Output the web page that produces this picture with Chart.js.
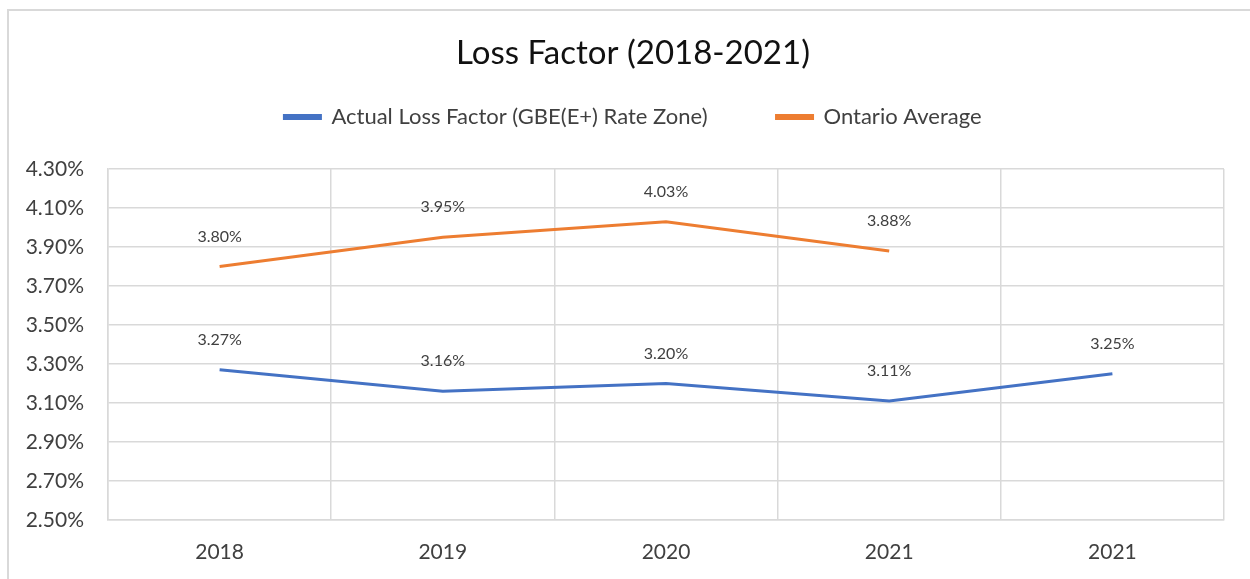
<!DOCTYPE html>
<html>
<head>
<meta charset="utf-8">
<script src="https://cdn.jsdelivr.net/npm/chart.js@4"></script>
<style>
  body { margin: 0; background: #fff; overflow: hidden; }
  #frame { position: absolute; left: 7px; top: 9px; width: 1300px; height: 600px; border: 2px solid #d9d9d9; box-sizing: border-box; }
  #wrap { position: absolute; left: 0; top: 0; width: 1250px; height: 579px; }
</style>
</head>
<body>
<div id="frame"></div>
<div id="wrap"><canvas id="chart"></canvas></div>
<script>
// values (percent)
const years = ["2018", "2019", "2020", "2021", "2021"];
const actualLoss = [3.27, 3.16, 3.20, 3.11, 3.25];
const ontarioAvg = [3.80, 3.95, 4.03, 3.88, null];

const labelColor = "#404040";
const fontName = "Lato, 'Open Sans', sans-serif";

// little labels above each point
const pointLabels = {
    id: "pointLabels",
    afterDatasetsDraw(chart) {
        const ctx = chart.ctx;
        ctx.save();
        ctx.font = "16px " + fontName;
        ctx.fillStyle = labelColor;
        ctx.textAlign = "center";
        ctx.textBaseline = "middle";
        chart.data.datasets.forEach((ds, i) => {
            chart.getDatasetMeta(i).data.forEach((pt, j) => {
                if (ds.data[j] == null) return;
                ctx.fillText(ds.data[j].toFixed(2) + "%", pt.x, pt.y - 30);
            });
        });
        ctx.restore();
    }
};

// title + legend sit a bit right of the plot centre, legend items spaced wide
const headerShift = {
    id: "headerShift",
    beforeInit(chart) {
        const legend = chart.legend;
        const fit = legend.fit;
        legend.fit = function () {
            fit.apply(legend, arguments);
            this.height -= 27.6;
        };
        legend.draw = function () {
            chart.ctx.save();
            chart.ctx.translate(21, -58.6);
            legend._draw();
            chart.ctx.restore();
        };
        const title = chart.titleBlock;
        const tdraw = title.draw;
        title.draw = function () {
            chart.ctx.save();
            chart.ctx.translate(21, 0);
            tdraw.apply(title, arguments);
            chart.ctx.restore();
        };
    }
};

const ctx = document.getElementById("chart").getContext("2d");
new Chart(ctx, {
    type: "line",
    data: {
        labels: years,
        datasets: [{
            label: "Actual Loss Factor (GBE(E+) Rate Zone)",
            data: actualLoss,
            borderColor: "#4472C4",
            backgroundColor: "#4472C4",
            borderWidth: 3,
            pointRadius: 0,
            tension: 0
        }, {
            label: "Ontario Average",
            data: ontarioAvg,
            borderColor: "#ED7D31",
            backgroundColor: "#ED7D31",
            borderWidth: 3,
            pointRadius: 0,
            tension: 0
        }]
    },
    options: {
        responsive: true,
        maintainAspectRatio: false,
        animation: false,
        layout: { padding: { top: 0, right: 26, left: 0, bottom: 0 } },
        plugins: {
            title: {
                display: true,
                text: "Loss Factor (2018-2021)",
                color: "#111",
                font: { family: fontName, size: 33, weight: "normal" },
                padding: { top: 34, bottom: 22 }
            },
            legend: {
                display: true,
                labels: {
                    color: labelColor,
                    font: { family: fontName, size: 22 },
                    boxWidth: 36,
                    boxHeight: 3,
                    padding: 69
                }
            },
            tooltip: { enabled: false }
        },
        scales: {
            x: {
                offset: true,
                grid: { offset: true, color: "#d9d9d9", lineWidth: 1.5, drawTicks: false },
                border: { color: "#d9d9d9", width: 1.5 },
                ticks: { color: labelColor, font: { family: fontName, size: 21 }, padding: 20 },
                afterFit(scale) { scale.height = 59; }
            },
            y: {
                min: 2.5,
                max: 4.3,
                grid: { color: "#d9d9d9", lineWidth: 1.5, drawTicks: false },
                border: { color: "#d9d9d9", width: 1.5 },
                ticks: {
                    stepSize: 0.2,
                    color: labelColor,
                    font: { family: fontName, size: 21 },
                    padding: 24,
                    callback: v => v.toFixed(2) + "%"
                },
                afterFit(scale) { scale.width = 108; }
            }
        }
    },
    plugins: [pointLabels, headerShift]
});
</script>
</body>
</html>
